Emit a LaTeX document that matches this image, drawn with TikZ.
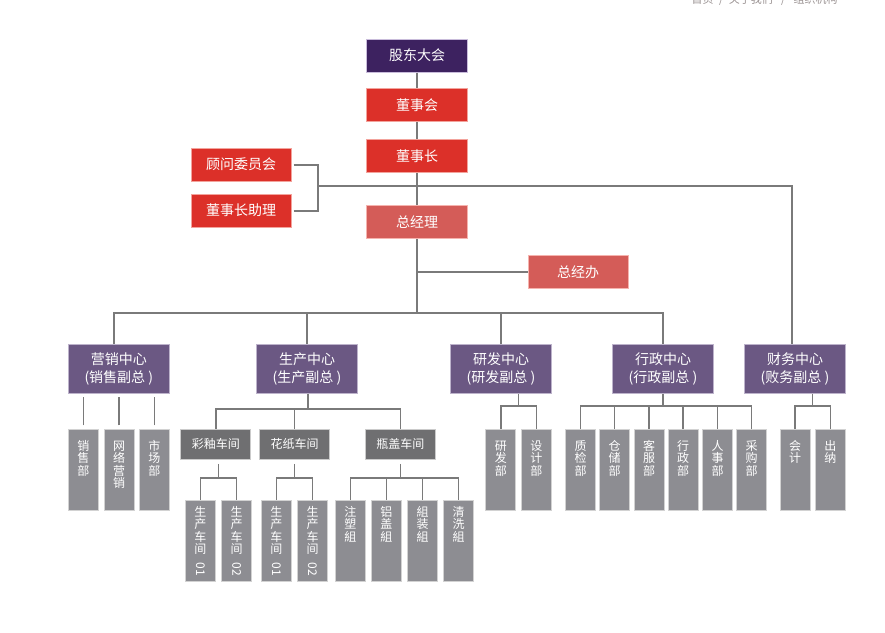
\documentclass[tikz,border=0pt]{standalone}
\usepackage{fontspec}
\setmainfont{Noto Sans CJK SC}
\usepackage{tikz}
\usetikzlibrary{calc}

\definecolor{gdfill}{HTML}{3D2260}
\definecolor{gdline}{HTML}{C9BCDB}
\definecolor{redfill}{HTML}{DC3029}
\definecolor{redline}{HTML}{F3A39C}
\definecolor{pinkfill}{HTML}{D45C58}
\definecolor{pinkline}{HTML}{F5B3AE}
\definecolor{zxfill}{HTML}{6B5883}
\definecolor{zxline}{HTML}{BDB3CB}
\definecolor{cjfill}{HTML}{6F6F71}
\definecolor{cjline}{HTML}{CBCBCB}
\definecolor{tallfill}{HTML}{8D8D92}
\definecolor{tallline}{HTML}{D2D2D2}
\definecolor{linegray}{HTML}{7A7A7A}
\definecolor{headgray}{HTML}{9A9292}

\newcommand{\vlab}[1]{\parbox[t]{14pt}{\centering\fontsize{9}{9.2}\selectfont #1}}

\begin{document}
\begin{tikzpicture}[x=0.75pt, y=-0.75pt]

    \useasboundingbox (0,0) rectangle (885,632);

    % --- 1. Stile ---
    \tikzset{topbox/.style={rectangle, minimum width=75.75pt, minimum height=24.75pt, inner sep=0pt,
                            line width=0.75pt, text=white, font=\fontsize{10.5}{12}\selectfont}}
    \tikzset{gdbox/.style={topbox, fill=gdfill, draw=gdline}}
    \tikzset{redbox/.style={topbox, fill=redfill, draw=redline}}
    \tikzset{pinkbox/.style={topbox, fill=pinkfill, draw=pinkline}}
    \tikzset{centerbox/.style={rectangle, minimum width=75.75pt, minimum height=36.4pt, inner sep=0pt,
                               fill=zxfill, draw=zxline, line width=0.75pt, text=white, align=center,
                               font=\fontsize{10.5}{14}\selectfont}}
    \tikzset{chejian/.style={rectangle, minimum width=52.5pt, minimum height=22.5pt, inner sep=0pt,
                             fill=cjfill, draw=cjline, line width=0.75pt, text=white,
                             font=\fontsize{9}{10}\selectfont}}
    \tikzset{tallbox/.style={rectangle, minimum width=22.5pt, inner sep=0pt, text height=16pt, text depth=44.75pt,
                             fill=tallfill, draw=tallline, line width=0.75pt, text=white}}
    \tikzset{tallcj/.style={tallbox, text height=12.5pt, text depth=48.25pt}}
    \tikzset{link/.style={draw=linegray, line width=1.5pt}}
    \tikzset{sublink/.style={draw=linegray, line width=1.1pt}}

    % --- 2. Navigation oben rechts ---
    \node[anchor=east, inner sep=0pt, text=headgray, font=\fontsize{8.25}{9}\selectfont] (daohang) at (838,0)
        {首页\enspace/\enspace 关于我们\hspace{0.75em}/\hspace{0.75em}组织机构};

    % --- 3. Obere Ebene ---
    \node[gdbox] (gudong) at (417,55.5) {股东大会};
    \node[redbox] (dongshihui) at (417,105) {董事会};
    \node[redbox] (dongshizhang) at (417,156) {董事长};
    \node[redbox, minimum width=75pt] (guwen) at (241,164.5) {顾问委员会};
    \node[redbox, minimum width=75pt] (zhuli) at (241,210.5) {董事长助理};
    \node[pinkbox] (zongjingli) at (417,222) {总经理};
    \node[pinkbox, minimum width=75pt] (zongjingban) at (578,272) {总经办};

    % --- 4. Zentren ---
    \node[centerbox] (yingxiao) at (118.8,369) {营销中心\\(销售副总 )};
    \node[centerbox] (shengchan) at (307,369) {生产中心\\(生产副总 )};
    \node[centerbox] (yanfa) at (501,369) {研发中心\\(研发副总 )};
    \node[centerbox] (xingzheng) at (663,369) {行政中心\\(行政副总 )};
    \node[centerbox] (caiwu) at (795,369) {财务中心\\(败务副总 )};

    % --- 5. Abteilungen ---
    \node[tallbox] (xiaoshou) at (83.3,469.7) {\vlab{销\\售\\部}};
    \node[tallbox] (wangluo) at (119.2,469.7) {\vlab{网\\络\\营\\销}};
    \node[tallbox] (shichang) at (154.3,469.7) {\vlab{市\\场\\部}};

    \node[chejian] (caiyou) at (215.8,444.3) {彩釉车间};
    \node[chejian] (huazhi) at (294.7,444.3) {花纸车间};
    \node[chejian] (pinggai) at (400.3,444.3) {瓶盖车间};

    \node[tallcj] (caiyou1) at (200.3,540.5) {\vlab{生\\产\\车\\间\\[-2.5pt]\rotatebox{-90}{01}}};
    \node[tallcj] (caiyou2) at (236.7,540.5) {\vlab{生\\产\\车\\间\\[-2.5pt]\rotatebox{-90}{02}}};
    \node[tallcj] (huazhi1) at (276.3,540.5) {\vlab{生\\产\\车\\间\\[-2.5pt]\rotatebox{-90}{01}}};
    \node[tallcj] (huazhi2) at (312.5,540.5) {\vlab{生\\产\\车\\间\\[-2.5pt]\rotatebox{-90}{02}}};
    \node[tallcj] (zhusu) at (350.3,540.5) {\vlab{注\\塑\\組}};
    \node[tallcj] (lvgai) at (386.3,540.5) {\vlab{铝\\盖\\組}};
    \node[tallcj] (zuzhuang) at (422.5,540.5) {\vlab{組\\装\\組}};
    \node[tallcj] (qingxi) at (458.7,540.5) {\vlab{清\\洗\\組}};

    \node[tallbox] (yanfabu) at (500.8,469.7) {\vlab{研\\发\\部}};
    \node[tallbox] (sheji) at (536.3,469.7) {\vlab{设\\计\\部}};

    \node[tallbox] (zhijian) at (580.5,469.7) {\vlab{质\\检\\部}};
    \node[tallbox] (cangchu) at (614.7,469.7) {\vlab{仓\\储\\部}};
    \node[tallbox] (kefu) at (649.2,469.7) {\vlab{客\\服\\部}};
    \node[tallbox] (xingzhengbu) at (683.2,469.7) {\vlab{行\\政\\部}};
    \node[tallbox] (renshi) at (717.5,469.7) {\vlab{人\\事\\部}};
    \node[tallbox] (caigou) at (751.7,469.7) {\vlab{采\\购\\部}};

    \node[tallbox] (kuaiji) at (795,469.7) {\vlab{会\\计}};
    \node[tallbox] (chuna) at (830.3,469.7) {\vlab{出\\纳}};

    % --- 6. Verbindungen obere Ebene ---
    \coordinate (guwenjoin) at (318,186);
    \coordinate (caiwutop) at (792,186);
    \coordinate (busleft) at (114,313);
    \coordinate (busright) at (663,313);

    \draw[link] (gudong) -- (dongshihui);
    \draw[link] (dongshihui) -- (dongshizhang);
    \draw[link] (dongshizhang) -- (zongjingli);
    \draw[link] ([xshift=1.5pt]guwen.east) -| (guwenjoin);
    \draw[link] ([xshift=1.5pt]zhuli.east) -| (guwenjoin);
    \draw[link] (guwenjoin) -- (caiwutop) -- (caiwutop |- caiwu.north);
    \draw[link] (zongjingban.west) -- (zongjingban.west -| zongjingli.south);
    \draw[link] (zongjingli.south) -- (zongjingli.south |- busleft);
    \draw[link] (busleft |- yingxiao.north) -- (busleft) -- (busright) -- (xingzheng.north);
    \draw[link] (shengchan.north) -- (shengchan.north |- busleft);
    \draw[link] (yanfa.north) -- (yanfa.north |- busleft);

    % --- 7. Verbindungen Abteilungen ---
    % Vertrieb: einzelne Striche
    \draw[sublink] ([yshift=2.5pt]xiaoshou.north) -- ([yshift=-2.5pt]xiaoshou.north |- yingxiao.south);
    \draw[sublink] ([yshift=2.5pt]wangluo.north) -- ([yshift=-2.5pt]wangluo.north |- yingxiao.south);
    \draw[sublink] ([yshift=2.5pt]shichang.north) -- ([yshift=-2.5pt]shichang.north |- yingxiao.south);

    % Produktion
    \coordinate (scmid) at ($(caiyou.north)!0.5!(pinggai.north)+(0,-20)$);
    \draw[sublink] (scmid |- shengchan.south) -- (scmid);
    \draw[sublink] (caiyou.north) |- (scmid) -| (pinggai.north);
    \draw[sublink] (huazhi.north) -- (huazhi.north |- scmid);

    \coordinate (cymid) at ($(caiyou1.north)!0.5!(caiyou2.north)+(0,-21.7)$);
    \draw[sublink] ([yshift=-3pt]cymid |- caiyou.south) -- (cymid);
    \draw[sublink] (caiyou1.north) |- (cymid) -| (caiyou2.north);

    \coordinate (hzmid) at ($(huazhi1.north)!0.5!(huazhi2.north)+(0,-21.7)$);
    \draw[sublink] ([yshift=-3pt]hzmid |- huazhi.south) -- (hzmid);
    \draw[sublink] (huazhi1.north) |- (hzmid) -| (huazhi2.north);

    \coordinate (pgmid) at ($(zhusu.north)!0.5!(qingxi.north)+(0,-21.7)$);
    \draw[sublink] ([yshift=-3pt]pinggai.south) -- (pinggai.south |- pgmid);
    \draw[sublink] (zhusu.north) |- (pgmid) -| (qingxi.north);
    \draw[sublink] (lvgai.north) -- (lvgai.north |- pgmid);
    \draw[sublink] (zuzhuang.north) -- (zuzhuang.north |- pgmid);

    % Forschung
    \coordinate (yfmid) at ($(yanfabu.north)!0.5!(sheji.north)+(0,-22.6)$);
    \draw[sublink] (yfmid |- yanfa.south) -- (yfmid);
    \draw[sublink] (yanfabu.north) |- (yfmid) -| (sheji.north);

    % Verwaltung
    \coordinate (xzmid) at ($(zhijian.north)!0.5!(caigou.north)+(0,-22.6)$);
    \draw[sublink] (xingzheng.south) -- (xingzheng.south |- xzmid);
    \draw[sublink] (zhijian.north) |- (xzmid) -| (caigou.north);
    \draw[sublink] (cangchu.north) -- (cangchu.north |- xzmid);
    \draw[sublink] (kefu.north) -- (kefu.north |- xzmid);
    \draw[sublink] (xingzhengbu.north) -- (xingzhengbu.north |- xzmid);
    \draw[sublink] (renshi.north) -- (renshi.north |- xzmid);

    % Finanzen
    \coordinate (cwmid) at ($(kuaiji.north)!0.5!(chuna.north)+(0,-22.6)$);
    \draw[sublink] (cwmid |- caiwu.south) -- (cwmid);
    \draw[sublink] (kuaiji.north) |- (cwmid) -| (chuna.north);

\end{tikzpicture}
\end{document}
